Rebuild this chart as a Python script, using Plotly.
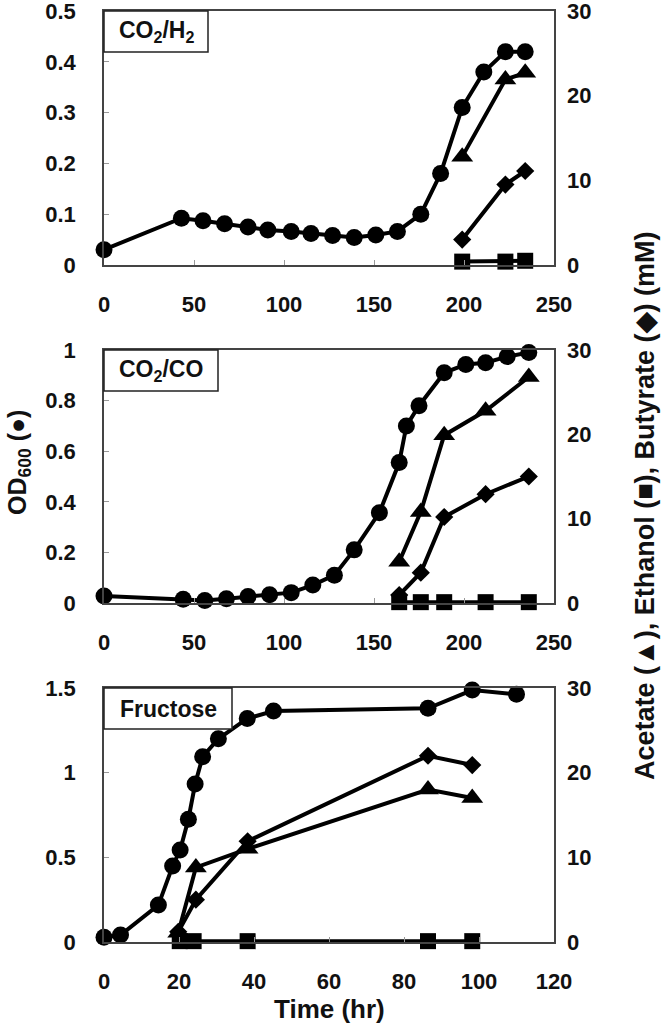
import plotly.graph_objects as go

# ---------------- data ----------------
# Panel 1: CO2/H2
h2_time = [0, 43, 55, 67, 80, 91, 104, 115, 127, 139, 151, 163, 176, 187, 199, 211, 223, 234]
h2_od = [0.030, 0.092, 0.087, 0.081, 0.075, 0.069, 0.066, 0.062, 0.058, 0.054, 0.059, 0.066,
         0.100, 0.180, 0.310, 0.380, 0.420, 0.420]
h2_prod_time = [199, 223, 234]
h2_acetate = [12.8, 21.9, 22.7]
h2_ethanol = [0.4, 0.4, 0.5]
h2_butyrate = [3.0, 9.5, 11.1]

# Panel 2: CO2/CO
co_time = [0, 44, 56, 68, 80, 92, 104, 116, 128, 139, 153, 164, 168, 175, 189, 201, 212, 224, 236]
co_od = [0.028, 0.015, 0.010, 0.017, 0.026, 0.033, 0.041, 0.071, 0.110, 0.210, 0.357, 0.555,
         0.700, 0.780, 0.910, 0.943, 0.950, 0.974, 0.990]
co_prod_time = [164, 176, 189, 212, 236]
co_acetate = [4.9, 10.8, 19.9, 22.8, 26.8]
co_ethanol = [0.1, 0.1, 0.1, 0.1, 0.1]
co_butyrate = [0.95, 3.6, 10.2, 12.9, 15.0]

# Panel 3: Fructose
fr_time = [0, 4.4, 14.5, 18.3, 20.3, 22.5, 24.3, 26.3, 30.5, 38.2, 45.2, 86.4, 98.2, 110]
fr_od = [0.028, 0.041, 0.218, 0.449, 0.543, 0.725, 0.933, 1.094, 1.200, 1.320, 1.364, 1.380,
         1.488, 1.463]
fr_prod_time = [19.8, 24.5, 38.3, 86.4, 98.2]
fr_ethanol_time = [20.2, 23.9, 38.3, 86.4, 98.2]
fr_acetate = [1.1, 8.8, 11.0, 18.0, 17.0]
fr_ethanol = [0.1, 0.1, 0.1, 0.1, 0.1]
fr_butyrate = [1.2, 5.0, 11.9, 22.0, 20.9]

panel_labels = ["CO<sub>2</sub>/H<sub>2</sub>", "CO<sub>2</sub>/CO", "Fructose"]
x_ranges = [[0, 250], [0, 250], [0, 120]]
x_dticks = [50, 50, 20]
od_ranges = [[0, 0.5], [0, 1], [0, 1.5]]
od_dticks = [0.1, 0.2, 0.5]
mm_range = [0, 30]
mm_dtick = 10

# ---------------- layout geometry (pixels) ----------------
W, H = 666, 1026
left_px, right_px = 104, 554
panels_px = [(11, 265), (350, 603), (688, 942)]  # (top, bottom)
box_w_px = [104, 114, 128]
box_h_px = 41

FONT = "Liberation Sans, Arial, sans-serif"
LINE_W = 4
BLACK = "black"
AXC = "#444444"

fig = go.Figure()

panels = [
    (h2_time, h2_od, h2_prod_time, h2_acetate, h2_prod_time, h2_ethanol, h2_prod_time, h2_butyrate),
    (co_time, co_od, co_prod_time, co_acetate, co_prod_time, co_ethanol, co_prod_time, co_butyrate),
    (fr_time, fr_od, fr_prod_time, fr_acetate, fr_ethanol_time, fr_ethanol, fr_prod_time, fr_butyrate),
]

layout = {}
shapes = []
annotations = []

for i, (t, od, ta, ac, te, et, tb, bu) in enumerate(panels):
    xn = "x" if i == 0 else f"x{i+1}"
    yl = f"y{2*i+1}" if i > 0 else "y"
    yr = f"y{2*i+2}"
    top, bot = panels_px[i]
    xdom = [left_px / W, right_px / W]
    ydom = [1 - bot / H, 1 - top / H]

    common_line = dict(color=BLACK, width=LINE_W)
    # products (right axis)
    fig.add_trace(go.Scatter(x=te, y=et, xaxis=xn, yaxis=yr, mode="lines+markers",
                             line=common_line, cliponaxis=False,
                             marker=dict(symbol="square", size=16, color=BLACK), showlegend=False))
    fig.add_trace(go.Scatter(x=tb, y=bu, xaxis=xn, yaxis=yr, mode="lines+markers",
                             line=common_line, cliponaxis=False,
                             marker=dict(symbol="diamond", size=14, color=BLACK), showlegend=False))
    fig.add_trace(go.Scatter(x=ta, y=ac, xaxis=xn, yaxis=yr, mode="lines+markers",
                             line=common_line, cliponaxis=False,
                             marker=dict(symbol="triangle-up", size=19, color=BLACK), showlegend=False))
    # OD (left axis)
    fig.add_trace(go.Scatter(x=t, y=od, xaxis=xn, yaxis=yl, mode="lines+markers",
                             line=common_line, cliponaxis=False,
                             marker=dict(symbol="circle", size=17, color=BLACK), showlegend=False))

    xkey = "xaxis" if i == 0 else f"xaxis{i+1}"
    ylkey = "yaxis" if i == 0 else f"yaxis{2*i+1}"
    yrkey = f"yaxis{2*i+2}"
    tickfont = dict(family=FONT, size=22, color="#111111", weight="bold")
    layout[xkey] = dict(domain=xdom, anchor=yl, range=x_ranges[i], dtick=x_dticks[i], tick0=0,
                        showline=True, linecolor=AXC, linewidth=1.5, mirror=True,
                        ticks="inside", ticklen=5, tickcolor="#999999", tickwidth=1,
                        showgrid=False, zeroline=False, tickfont=tickfont,
                        ticklabelstandoff=19, automargin=False, ticklabeloverflow="allow")
    layout[ylkey] = dict(domain=ydom, anchor=xn, range=od_ranges[i], dtick=od_dticks[i], tick0=0,
                         showline=True, linecolor=AXC, linewidth=1.5, mirror=True,
                         ticks="inside", ticklen=5, tickcolor="#999999", tickwidth=1,
                         showgrid=False, zeroline=False, tickfont=tickfont,
                         ticklabelstandoff=22, automargin=False, ticklabeloverflow="allow")
    layout[yrkey] = dict(overlaying=yl, side="right", anchor=xn, range=mm_range, dtick=mm_dtick,
                         tick0=0, showline=False, ticks="", showgrid=False, zeroline=False,
                         tickfont=tickfont, ticklabelstandoff=12, automargin=False,
                         ticklabeloverflow="allow")

    # label box
    shapes.append(dict(type="rect", xref=f"{xn} domain", yref=f"{yl} domain",
                       x0=0, x1=box_w_px[i] / (right_px - left_px),
                       y0=1 - box_h_px / (bot - top), y1=1,
                       line=dict(color="#222222", width=1.5), fillcolor="white", layer="above"))
    annotations.append(dict(xref=f"{xn} domain", yref=f"{yl} domain",
                            x=box_w_px[i] / 2 / (right_px - left_px),
                            y=1 - box_h_px / 2 / (bot - top),
                            text=panel_labels[i], showarrow=False, xanchor="center", yanchor="middle",
                            font=dict(family=FONT, size=23, color="#111111", weight="bold")))

title_font = dict(family=FONT, size=25, color="#111111", weight="bold")
annotations.append(dict(xref="paper", yref="paper", x=329 / W, y=1 - 1009 / H,
                        text="Time (hr)", showarrow=False, xanchor="center", yanchor="middle",
                        font=dict(family=FONT, size=26, color="#111111", weight="bold")))
annotations.append(dict(xref="paper", yref="paper", x=19 / W, y=1 - 463 / H,
                        text="OD<sub>600</sub> (●)", showarrow=False, textangle=-90,
                        xanchor="center", yanchor="middle", font=title_font))
annotations.append(dict(xref="paper", yref="paper", x=645 / W, y=1 - 506 / H,
                        text="Acetate (▲), Ethanol (■), Butyrate (◆) (mM)", showarrow=False,
                        textangle=-90, xanchor="center", yanchor="middle",
                        font=dict(family=FONT, size=27, color="#111111", weight="bold")))

fig.update_layout(width=W, height=H, margin=dict(l=0, r=0, t=0, b=0),
                  paper_bgcolor="white", plot_bgcolor="white",
                  shapes=shapes, annotations=annotations, **layout)

fig.write_html("out.html", config={"displayModeBar": False},
               post_script="document.body.style.margin='0';")
